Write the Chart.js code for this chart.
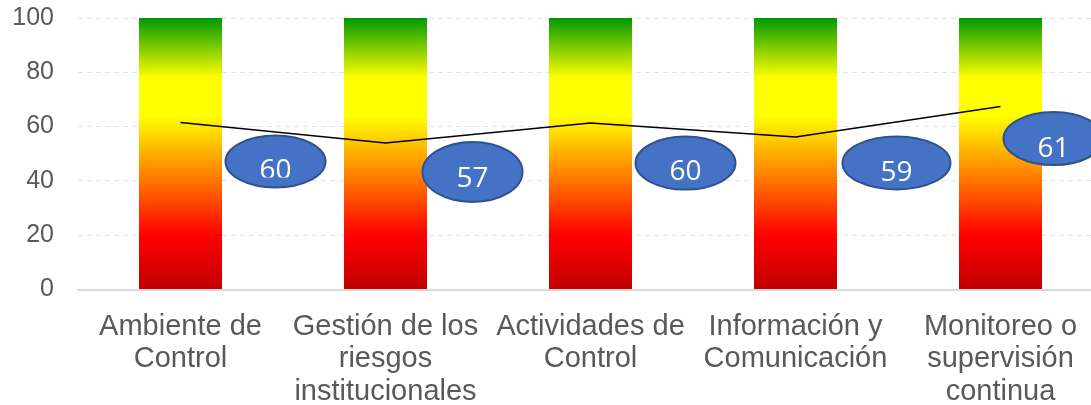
<!DOCTYPE html>
<html lang="es">
<head>
    <meta charset="UTF-8">
    <title>Componentes de Control Interno</title>
    <script src="https://cdn.jsdelivr.net/npm/chart.js"></script>
    <style>
        html, body { margin: 0; padding: 0; background: #fff; overflow: hidden; }
        #wrap { width: 1110px; height: 405px; position: relative; }
    </style>
</head>
<body>
    <div id="wrap">
        <canvas id="chart"></canvas>
    </div>
    <script>
        // data
        const categories = [
            ['Ambiente de', 'Control'],
            ['Gestión de los', 'riesgos', 'institucionales'],
            ['Actividades de', 'Control'],
            ['Información y', 'Comunicación'],
            ['Monitoreo o', 'supervisión', 'continua']
        ];
        const scaleBars = [100, 100, 100, 100, 100];
        const lineValues = [61.5, 54, 61.3, 56.2, 67.4];
        const scoreLabels = [60, 57, 60, 59, 61];
        const yTicks = [0, 20, 40, 60, 80, 100];

        // where each oval sits relative to its point (pixels)
        const ovalOffsets = [[95, 39], [87, 29], [95, 40], [101, 26], [53, 32]];
        const ovalSizes = [[50, 26], [50, 30], [50, 26.5], [54, 26.5], [50, 26.5]];
        const textShift = [10, 7, 9, 10, 11];

        function barGradient(context) {
            const chart = context.chart;
            const area = chart.chartArea;
            if (!area) return '#FFFF00';
            const g = chart.ctx.createLinearGradient(0, area.bottom, 0, area.top);
            g.addColorStop(0, '#C00000');
            g.addColorStop(0.2, '#FF0000');
            g.addColorStop(0.64, '#FFFF00');
            g.addColorStop(0.78, '#FFFF00');
            g.addColorStop(1, '#009900');
            return g;
        }

        const ovalLabels = {
            id: 'ovalLabels',
            afterDatasetsDraw(chart) {
                const ctx = chart.ctx;
                const meta = chart.getDatasetMeta(1);
                meta.data.forEach((pt, i) => {
                    const cx = pt.x + ovalOffsets[i][0];
                    const cy = pt.y + ovalOffsets[i][1];
                    ctx.save();
                    ctx.beginPath();
                    ctx.ellipse(cx, cy, ovalSizes[i][0], ovalSizes[i][1], 0, 0, Math.PI * 2);
                    ctx.fillStyle = '#4472C4';
                    ctx.fill();
                    ctx.lineWidth = 2;
                    ctx.strokeStyle = '#2F528F';
                    ctx.stroke();
                    if (i === 0) {
                        ctx.beginPath();
                        ctx.rect(cx - 60, cy - 40, 120, 56);
                        ctx.clip();
                    }
                    ctx.fillStyle = '#FFFFFF';
                    ctx.font = '28px "Open Sans", sans-serif';
                    ctx.textAlign = 'center';
                    ctx.textBaseline = 'middle';
                    ctx.fillText(String(scoreLabels[i]), cx, cy + textShift[i]);
                    ctx.restore();
                });
            }
        };

        new Chart(document.getElementById('chart'), {
            type: 'bar',
            data: {
                labels: categories,
                datasets: [{
                    type: 'bar',
                    data: scaleBars,
                    backgroundColor: barGradient,
                    barPercentage: 0.405,
                    categoryPercentage: 1,
                    order: 2
                }, {
                    type: 'line',
                    data: lineValues,
                    borderColor: '#000000',
                    borderWidth: 1.5,
                    pointRadius: 0,
                    tension: 0,
                    order: 1
                }]
            },
            options: {
                responsive: true,
                maintainAspectRatio: false,
                animation: false,
                layout: { padding: { top: 0, right: 7, left: 0, bottom: 0 } },
                plugins: {
                    legend: { display: false },
                    tooltip: { enabled: false }
                },
                scales: {
                    x: {
                        grid: { display: false },
                        border: { display: true, color: '#D9D9D9', width: 2 },
                        ticks: {
                            color: '#595959',
                            font: { family: '"Liberation Sans", Arial, sans-serif', size: 29, lineHeight: 1.12 },
                            maxRotation: 0,
                            autoSkip: false,
                            padding: 13
                        },
                        afterFit(scale) {
                            scale.height = 115.5;
                            scale.paddingTop = 0;
                            scale.paddingBottom = 0;
                        }
                    },
                    y: {
                        min: 0,
                        max: 100,
                        afterBuildTicks(scale) { scale.ticks = yTicks.map(v => ({ value: v })); },
                        grid: { color: '#E3E3E3', lineWidth: 1, drawTicks: false },
                        border: { display: false, dash: [5, 4] },
                        ticks: {
                            color: '#595959',
                            font: { family: '"Liberation Sans", Arial, sans-serif', size: 25 },
                            padding: 24
                        },
                        afterFit(scale) {
                            scale.width = 78;
                            scale.paddingTop = 18;
                            scale.paddingBottom = 0;
                        }
                    }
                }
            },
            plugins: [ovalLabels]
        });
    </script>
</body>
</html>
